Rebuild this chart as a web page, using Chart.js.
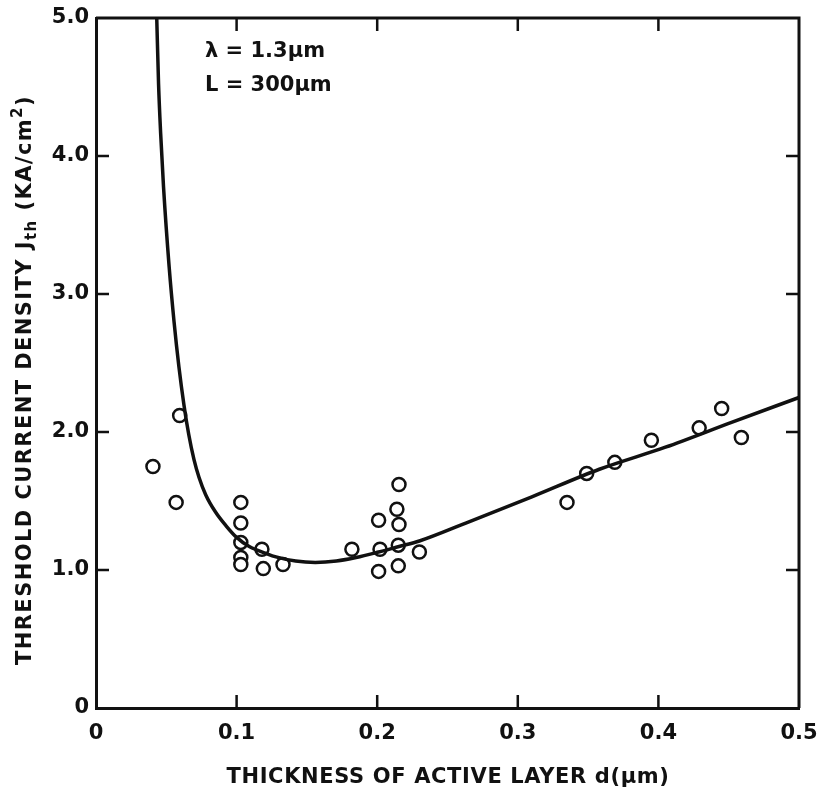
<!DOCTYPE html>
<html>
<head>
<meta charset="utf-8">
<script src="https://cdn.jsdelivr.net/npm/chart.js@4"></script>
<style>
  html, body { margin: 0; padding: 0; background: #fff; }
  #wrap { width: 817px; height: 792px; }
</style>
</head>
<body>
<div id="wrap"><canvas id="jthChart" width="817" height="792"></canvas></div>
<script>
// measured threshold current densities (kA/cm2) vs active layer thickness (um)
const thickness = [0.0405, 0.057, 0.0595, 0.103, 0.103, 0.103, 0.103, 0.103, 0.118, 0.119,
                   0.133, 0.182, 0.201, 0.202, 0.201, 0.2155, 0.214, 0.2155, 0.215, 0.215,
                   0.230, 0.335, 0.349, 0.369, 0.395, 0.429, 0.445, 0.459];
const jth = [1.75, 1.49, 2.12, 1.49, 1.34, 1.20, 1.09, 1.04, 1.15, 1.01,
             1.04, 1.15, 1.36, 1.15, 0.99, 1.62, 1.44, 1.33, 1.18, 1.03,
             1.13, 1.49, 1.70, 1.78, 1.94, 2.03, 2.17, 1.96];

// calculated curve
const curveD = [0.0432, 0.0445, 0.046, 0.048, 0.052, 0.0555, 0.059, 0.0625, 0.066, 0.0697,
                0.0733, 0.078, 0.085, 0.0925, 0.0996, 0.109, 0.121, 0.128, 0.142, 0.156,
                0.171, 0.185, 0.201, 0.2155, 0.230, 0.263, 0.310, 0.358, 0.405, 0.452, 0.5];
const curveJ = [5.0, 4.52, 4.16, 3.78, 3.20, 2.80, 2.47, 2.20, 1.98, 1.80,
                1.67, 1.546, 1.42, 1.32, 1.24, 1.17, 1.12, 1.095, 1.065, 1.055,
                1.065, 1.09, 1.13, 1.17, 1.21, 1.34, 1.53, 1.73, 1.89, 2.07, 2.25];

const xTicks = [0, 0.1, 0.2, 0.3, 0.4, 0.5];
const yTicks = [0, 1, 2, 3, 4, 5];
const xTickLabels = ['0', '0.1', '0.2', '0.3', '0.4', '0.5'];
const yTickLabels = ['0', '1.0', '2.0', '3.0', '4.0', '5.0'];

const FONT = '"DejaVu Sans", sans-serif';
const INK = '#111';

// frame on top/right plus inward tick marks on all four sides
const framePlugin = {
  id: 'frame',
  afterDatasetsDraw(chart) {
    const { ctx, chartArea: a, scales } = chart;
    const len = 13;
    ctx.save();
    ctx.strokeStyle = INK;
    ctx.lineWidth = 3;
    ctx.beginPath();
    ctx.moveTo(a.left, a.top); ctx.lineTo(a.right, a.top); ctx.lineTo(a.right, a.bottom);
    ctx.stroke();
    ctx.lineWidth = 2.5;
    ctx.beginPath();
    xTicks.slice(1, -1).forEach(v => {
      const px = scales.x.getPixelForValue(v);
      ctx.moveTo(px, a.bottom); ctx.lineTo(px, a.bottom - len);
      ctx.moveTo(px, a.top); ctx.lineTo(px, a.top + len);
    });
    yTicks.slice(1, -1).forEach(v => {
      const py = scales.y.getPixelForValue(v);
      ctx.moveTo(a.left, py); ctx.lineTo(a.left + len, py);
      ctx.moveTo(a.right, py); ctx.lineTo(a.right - len, py);
    });
    ctx.stroke();
    ctx.restore();
  }
};

// axis titles (with sub/superscripts) and the parameter note
const textPlugin = {
  id: 'texts',
  afterDraw(chart) {
    const { ctx, scales } = chart;
    ctx.save();
    ctx.fillStyle = INK;
    ctx.textBaseline = 'alphabetic';

    // parts: [text, size, baseline shift]
    function drawRun(parts, x, y, sp) {
      let cx = x;
      parts.forEach(([t, s, dy]) => {
        ctx.font = 'bold ' + s + 'px ' + FONT;
        ctx.letterSpacing = sp + 'px';
        ctx.fillText(t, cx, y + dy);
        cx += ctx.measureText(t).width;
      });
    }
    function runWidth(parts, sp) {
      return parts.reduce((w, [t, s]) => {
        ctx.font = 'bold ' + s + 'px ' + FONT;
        ctx.letterSpacing = sp + 'px';
        return w + ctx.measureText(t).width;
      }, 0);
    }
    // pick a letter spacing so the run spans the given length
    function spacingFor(parts, target) {
      const base = runWidth(parts, 0);
      const n = parts.reduce((c, [t]) => c + t.length, 0);
      return Math.max(0, (target - base) / n);
    }

    // x title
    const xt = [['THICKNESS OF ACTIVE LAYER d(μm)', 21, 0]];
    const xs = spacingFor(xt, 443);
    drawRun(xt, 448 - runWidth(xt, xs) / 2, 783, xs);

    // y title, rotated
    const yt = [['THRESHOLD CURRENT DENSITY J', 21, 0], ['th', 15, 5], [' (KA/cm', 21, 0], ['2', 15, -9], [')', 21, 0]];
    const ys = spacingFor(yt, 570);
    ctx.translate(31, 380);
    ctx.rotate(-Math.PI / 2);
    drawRun(yt, -runWidth(yt, ys) / 2, 0, ys);
    ctx.setTransform(1, 0, 0, 1, 0, 0);

    // parameters
    const nx = scales.x.getPixelForValue(0.0775);
    drawRun([['λ = 1.3μm', 21, 0]], nx, scales.y.getPixelForValue(4.72), 0);
    drawRun([['L = 300μm', 21, 0]], nx, scales.y.getPixelForValue(4.47), 0);
    ctx.restore();
  }
};

const ctx = document.getElementById('jthChart').getContext('2d');
const chart = new Chart(ctx, {
  type: 'scatter',
  data: {
    datasets: [
      {
        label: 'calculated',
        type: 'line',
        data: curveD.map((d, i) => ({ x: d, y: curveJ[i] })),
        borderColor: INK,
        borderWidth: 3.5,
        pointRadius: 0,
        tension: 0.4,
        cubicInterpolationMode: 'monotone',
        fill: false,
        clip: 2
      },
      {
        label: 'measured',
        data: thickness.map((d, i) => ({ x: d, y: jth[i] })),
        pointStyle: 'circle',
        pointRadius: 6.5,
        pointBorderWidth: 2.5,
        borderColor: INK,
        backgroundColor: '#fff',
        pointBackgroundColor: '#fff'
      }
    ]
  },
  options: {
    responsive: false,
    animation: false,
    events: [],
    layout: { padding: { top: 18, right: 18, left: 0, bottom: 0 } },
    plugins: { legend: { display: false }, tooltip: { enabled: false } },
    scales: {
      x: {
        type: 'linear',
        min: 0, max: 0.5,
        afterFit: s => { s.height = 84; s.paddingLeft = 0; s.paddingRight = 0; },
        afterBuildTicks: s => { s.ticks = xTicks.map(v => ({ value: v })); },
        grid: { display: false, drawTicks: false },
        border: { display: true, color: INK, width: 3 },
        ticks: {
          padding: 13,
          color: INK,
          font: { family: FONT, size: 21, weight: 'bold' },
          maxRotation: 0,
          callback: (v) => xTickLabels[xTicks.indexOf(v)]
        }
      },
      y: {
        type: 'linear',
        min: 0, max: 5,
        afterFit: s => { s.width = 96; s.paddingTop = 0; s.paddingBottom = 0; },
        afterBuildTicks: s => { s.ticks = yTicks.map(v => ({ value: v })); },
        grid: { display: false, drawTicks: false },
        border: { display: true, color: INK, width: 3 },
        ticks: {
          padding: 7,
          color: INK,
          font: { family: FONT, size: 21, weight: 'bold' },
          callback: (v) => yTickLabels[yTicks.indexOf(v)]
        }
      }
    }
  },
  plugins: [framePlugin, textPlugin]
});
</script>
</body>
</html>
